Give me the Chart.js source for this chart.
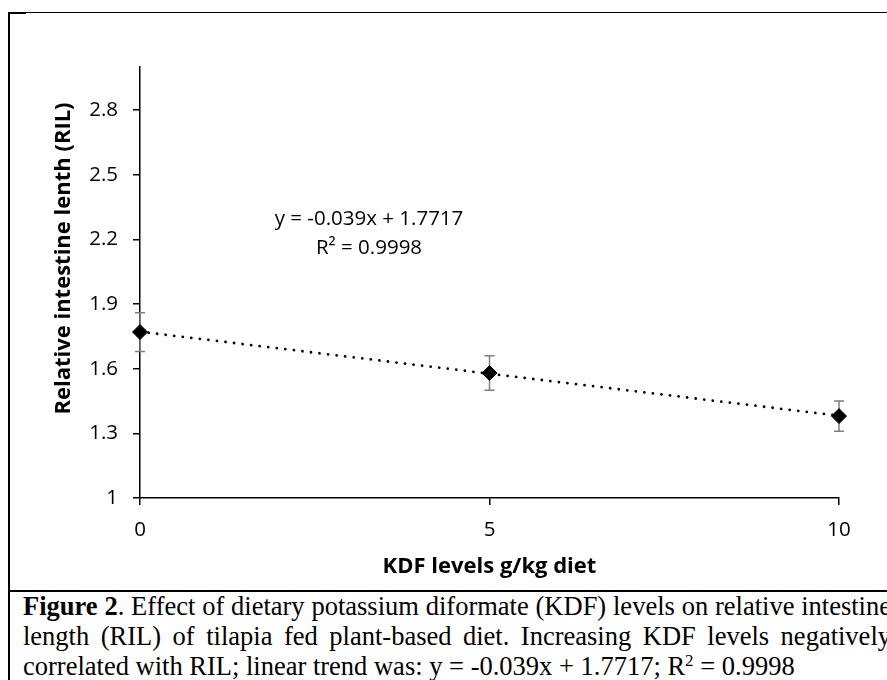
<!DOCTYPE html>
<html>
<head>
<meta charset="utf-8">
<script src="https://cdn.jsdelivr.net/npm/chart.js@4.4.1/dist/chart.umd.min.js"></script>
<style>
  body { margin: 0; width: 887px; height: 680px; overflow: hidden; background: #fff; position: relative; }
  #frame { position: absolute; left: 8px; top: 12px; width: 900px; height: 700px; border-left: 2px solid #000; border-top: 1px solid #000; }
  #corner { position: absolute; left: 8px; top: 12px; width: 18px; height: 2px; background: #000; }
  #chartBox { position: absolute; left: 10px; top: 13px; width: 877px; height: 577px; }
  #sep { position: absolute; left: 8px; top: 590px; width: 900px; height: 2px; background: #000; }
  #caption { position: absolute; left: 23px; top: 591px; font-family: "Liberation Serif", "Times New Roman", serif; font-size: 26.5px; line-height: 30px; color: #000; }
  #caption div { white-space: nowrap; }
  #caption sup { font-size: 17px; line-height: 0; vertical-align: 9px; }
</style>
</head>
<body>
<div id="frame"></div>
<div id="corner"></div>
<div id="chartBox"><canvas id="chart" width="877" height="577"></canvas></div>
<div id="sep"></div>
<div id="caption">
  <div><span class="just"><b>Figure 2</b>. Effect of dietary potassium diformate (KDF) levels on relative intestine</span></div>
  <div><span class="just">length (RIL) of tilapia fed plant-based diet. Increasing KDF levels negatively</span></div>
  <div><span>correlated with RIL; linear trend was: y = -0.039x + 1.7717; R<sup>2</sup> = 0.9998</span></div>
</div>
<script>
// datos
const kdfLevels = [0, 5, 10];
const rilMean = [1.77, 1.58, 1.38];
const rilErr = [0.09, 0.08, 0.07];
const trendX = [0, 10];
const trendY = [1.7717, 1.3817];
const xTicks = [0, 5, 10];
const yTicks = [1, 1.3, 1.6, 1.9, 2.2, 2.5, 2.8];
const equationLines = ['y = -0.039x + 1.7717', 'R\u00b2 = 0.9998'];
const yTitle = 'Relative intestine lenth (RIL)';
const xTitle = 'KDF levels g/kg diet';

Chart.defaults.font.family = '"Open Sans", sans-serif';
Chart.defaults.color = '#000';

// barras de error (gris) usando las escalas del grafico
const errorBars = {
  id: 'errorBars',
  beforeDatasetsDraw(chart) {
    const { ctx, scales: { x, y } } = chart;
    ctx.save();
    ctx.strokeStyle = '#7f7f7f';
    ctx.lineWidth = 1.5;
    kdfLevels.forEach((lv, i) => {
      const px = x.getPixelForValue(lv);
      const top = y.getPixelForValue(rilMean[i] + rilErr[i]);
      const bot = y.getPixelForValue(rilMean[i] - rilErr[i]);
      ctx.beginPath();
      ctx.moveTo(px, top); ctx.lineTo(px, bot);
      ctx.moveTo(px - 5, top); ctx.lineTo(px + 5, top);
      ctx.moveTo(px - 5, bot); ctx.lineTo(px + 5, bot);
      ctx.stroke();
    });
    ctx.restore();
  }
};

// ecuacion de la tendencia y titulo del eje Y
const labels = {
  id: 'labels',
  afterDraw(chart) {
    const { ctx } = chart;
    ctx.save();
    ctx.fillStyle = '#000';
    ctx.textAlign = 'center';
    ctx.textBaseline = 'alphabetic';
    ctx.font = '20.5px "Open Sans"';
    ctx.fillText(equationLines[0], 359, 212);
    ctx.fillText(equationLines[1], 359, 241);
    ctx.translate(54, 245.5);
    ctx.rotate(-Math.PI / 2);
    ctx.font = 'bold 22px "Open Sans"';
    ctx.textBaseline = 'middle';
    ctx.fillText(yTitle, 0, 0);
    ctx.restore();
  }
};

const axisGrid = { drawOnChartArea: false, drawTicks: true, tickLength: 7, color: '#000', lineWidth: 1.5 };

const chart = new Chart(document.getElementById('chart'), {
  type: 'scatter',
  data: {
    datasets: [
      {
        label: 'Tendencia',
        data: trendX.map((v, i) => ({ x: v, y: trendY[i] })),
        showLine: true,
        borderColor: '#000',
        borderWidth: 2.8,
        borderDash: [0.01, 8.6],
        borderCapStyle: 'round',
        pointRadius: 0,
        clip: false,
        order: 2
      },
      {
        label: 'RIL',
        data: kdfLevels.map((v, i) => ({ x: v, y: rilMean[i] })),
        pointStyle: 'rectRot',
        pointRadius: 7.5,
        backgroundColor: '#000',
        borderColor: '#000',
        borderWidth: 1,
        clip: false,
        order: 1
      }
    ]
  },
  options: {
    responsive: false,
    animation: false,
    devicePixelRatio: 1,
    layout: { padding: { top: 54, right: 48, left: 0, bottom: 0 } },
    plugins: { legend: { display: false }, tooltip: { enabled: false } },
    scales: {
      x: {
        type: 'linear',
        min: 0,
        max: 10,
        afterBuildTicks: s => { s.ticks = xTicks.map(v => ({ value: v })); },
        afterFit: s => { s.height = 92; },
        grid: axisGrid,
        border: { color: '#000', width: 1.5 },
        ticks: { padding: 13, font: { size: 20.5 }, maxRotation: 0, callback: v => String(v) },
        title: { display: true, text: xTitle, font: { size: 22, weight: 'bold' }, padding: { top: 0, bottom: 10 } }
      },
      y: {
        type: 'linear',
        min: 1,
        max: 3,
        afterBuildTicks: s => { s.ticks = yTicks.map(v => ({ value: v })); },
        afterFit: s => { s.width = 130; },
        grid: axisGrid,
        border: { color: '#000', width: 1.5 },
        ticks: { padding: 15, font: { size: 20.5 }, callback: v => String(v) }
      }
    }
  },
  plugins: [errorBars, labels]
});

// justificar las dos primeras lineas del pie de figura
const lineWidth = 868;
document.querySelectorAll('#caption .just').forEach(el => {
  const spaces = (el.textContent.match(/ /g) || []).length;
  const natural = el.getBoundingClientRect().width;
  el.style.wordSpacing = ((lineWidth - natural) / spaces) + 'px';
});
</script>
</body>
</html>
